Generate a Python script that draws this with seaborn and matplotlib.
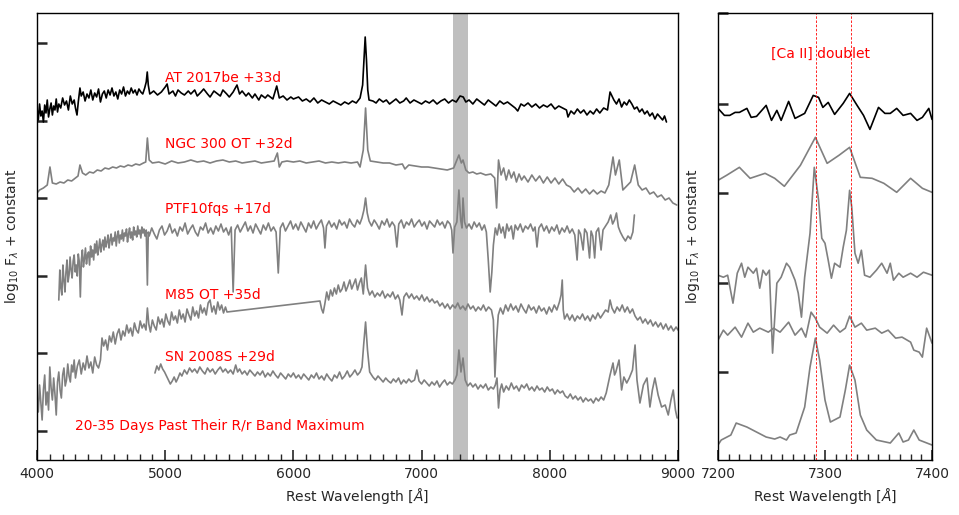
import matplotlib
matplotlib.use("Agg")
import matplotlib.pyplot as plt
from matplotlib.ticker import MultipleLocator, NullFormatter
import seaborn as sns

# ---------------- data (wavelength [A], log10 F + constant, arbitrary units) ----------------
at2017be = [(4000,352),(4010,340),(4020,356),(4030,344),(4040,349),(4050,338),(4060,355),(4070,347),(4080,360),(4090,343),
            (4100,351),(4110,357),(4120,345),(4130,354),(4140,350),(4150,361),(4160,348),(4170,356),(4185,352),(4200,362),
            (4215,355),(4230,359),(4245,350),(4260,364),(4275,356),(4290,360),(4300,352),(4312,345),(4322,358),(4335,372),
            (4345,364),(4360,368),(4375,359),(4390,366),(4405,362),(4420,370),(4435,360),(4450,367),(4465,363),(4480,371),
            (4495,358),(4510,366),(4525,369),(4540,362),(4555,370),(4570,365),(4585,372),(4600,364),(4615,368),(4630,361),
            (4645,370),(4660,366),(4675,373),(4690,364),(4705,369),(4720,366),(4735,372),(4750,367),(4765,370),(4780,365),
            (4795,371),(4810,368),(4825,366),(4840,372),(4852,378),(4860,388),(4868,375),(4880,366),(4910,369),(4940,365),
            (4970,368),(5000,373),(5015,376),(5030,366),(5060,369),(5080,364),(5100,370),(5125,367),(5150,365),(5180,369),
            (5200,366),(5230,370),(5250,364),(5280,368),(5300,371),(5330,366),(5350,363),(5380,369),(5400,367),(5430,364),
            (5450,370),(5480,366),(5500,363),(5530,368),(5560,375),(5580,366),(5600,369),(5630,364),(5650,367),(5680,362),
            (5700,366),(5730,360),(5750,365),(5780,362),(5800,365),(5840,361),(5870,374),(5890,362),(5920,364),(5950,360),
            (5980,363),(6000,361),(6040,363),(6070,359),(6100,361),(6130,358),(6160,362),(6190,357),(6220,360),(6250,358),
            (6280,356),(6310,359),(6340,357),(6370,355),(6400,358),(6430,356),(6460,359),(6490,357),(6520,362),(6540,375),
            (6550,400),(6560,423),(6570,400),(6580,370),(6590,360),(6620,359),(6645,357),(6670,361),(6700,358),(6725,360),
            (6750,356),(6780,359),(6800,361),(6830,357),(6860,359),(6880,362),(6910,357),(6940,360),(6970,358),(7000,356),
            (7030,359),(7060,357),(7090,360),(7120,356),(7150,359),(7180,361),(7210,357),(7240,360),(7270,358),(7300,364),
            (7325,363),(7345,358),(7370,360),(7400,356),(7430,361),(7460,358),(7490,355),(7520,360),(7550,357),(7580,354),
            (7610,359),(7640,356),(7670,358),(7700,355),(7730,352),(7750,349),(7775,356),(7800,354),(7830,357),(7860,353),
            (7890,356),(7920,352),(7950,355),(7980,353),(8010,356),(8040,351),(8070,354),(8100,352),(8130,350),(8142,343),
            (8165,349),(8190,346),(8215,351),(8240,347),(8265,350),(8290,345),(8315,349),(8340,346),(8365,351),(8390,347),
            (8420,352),(8450,350),(8470,368),(8485,364),(8500,360),(8520,356),(8540,361),(8560,353),(8580,358),(8600,355),
            (8620,360),(8640,356),(8660,351),(8680,353),(8700,348),(8720,351),(8740,346),(8760,349),(8780,344),(8800,347),
            (8820,341),(8840,346),(8860,343),(8880,340),(8895,344),(8910,338)]

ngc300ot = [(4000,267),(4020,270),(4050,272),(4080,275),(4101,293),(4120,277),(4150,276),(4180,278),(4210,277),(4240,280),
            (4270,279),(4300,282),(4320,284),(4335,295),(4355,287),(4380,285),(4410,288),(4440,287),(4470,290),(4500,289),
            (4530,292),(4560,291),(4590,293),(4620,292),(4650,294),(4680,293),(4710,295),(4740,294),(4770,296),(4800,295),
            (4830,297),(4848,298),(4861,322),(4875,300),(4900,297),(4950,298),(5000,296),(5050,299),(5100,297),(5150,298),
            (5200,300),(5250,298),(5300,299),(5350,297),(5400,299),(5450,300),(5500,298),(5550,299),(5600,297),(5650,298),
            (5700,299),(5750,297),(5800,298),(5850,299),(5875,307),(5890,293),(5910,298),(5950,299),(6000,298),(6050,299),
            (6100,297),(6150,298),(6200,299),(6250,297),(6300,298),(6350,297),(6400,298),(6450,297),(6500,298),(6520,293),
            (6545,310),(6563,352),(6580,310),(6600,299),(6650,298),(6700,297),(6750,297),(6800,295),(6850,296),(6870,291),
            (6900,295),(6950,294),(7000,293),(7050,293),(7100,292),(7150,291),(7200,290),(7250,292),(7291,305),(7310,297),
            (7323,300),(7345,290),(7370,287),(7400,288),(7430,286),(7460,287),(7500,285),(7540,286),(7570,282),(7585,252),
            (7600,300),(7620,285),(7640,292),(7660,280),(7680,290),(7700,282),(7720,288),(7740,278),(7760,286),(7780,280),
            (7800,284),(7830,278),(7860,285),(7890,279),(7920,284),(7950,277),(7980,283),(8010,277),(8040,282),(8070,276),
            (8100,281),(8130,275),(8160,273),(8190,268),(8220,272),(8250,267),(8280,271),(8310,266),(8340,270),(8370,266),
            (8400,269),(8430,267),(8460,275),(8493,303),(8512,285),(8542,300),(8570,270),(8600,274),(8630,278),(8662,295),
            (8690,275),(8720,270),(8750,272),(8780,266),(8810,268),(8840,263),(8870,265),(8900,260),(8930,262),(8960,257),
            (8990,255)]

ptf10fqs = [(4170,160),(4178,190),(4186,172),(4194,165),(4202,195),(4210,180),(4218,168),(4226,188),(4234,200),(4242,178),
            (4250,185),(4258,203),(4266,190),(4274,182),(4282,199),(4290,205),(4298,188),(4306,195),(4314,184),(4322,206),
            (4330,198),(4338,163),(4346,200),(4354,210),(4362,193),(4370,201),(4378,212),(4386,196),(4394,205),(4402,208),
            (4410,195),(4418,214),(4426,203),(4434,210),(4442,200),(4450,216),(4458,207),(4466,219),(4474,205),(4482,212),
            (4490,221),(4498,208),(4506,215),(4514,220),(4522,210),(4530,223),(4538,213),(4546,218),(4554,225),(4562,212),
            (4570,220),(4578,226),(4586,215),(4594,222),(4602,219),(4610,228),(4618,214),(4626,224),(4634,229),(4642,217),
            (4650,225),(4658,221),(4666,230),(4674,219),(4682,227),(4690,224),(4698,231),(4706,218),(4714,226),(4722,232),
            (4730,222),(4738,228),(4746,220),(4754,233),(4762,225),(4770,229),(4778,223),(4786,234),(4794,226),(4802,230),
            (4810,222),(4818,233),(4826,227),(4834,231),(4842,224),(4852,230),(4861,175),(4868,228),(4875,224),(4895,232),
            (4915,226),(4935,221),(4955,230),(4975,234),(4995,225),(5015,229),(5035,236),(5055,227),(5075,231),(5095,224),
            (5115,233),(5135,229),(5155,237),(5175,226),(5195,231),(5215,235),(5235,228),(5255,224),(5275,233),(5295,230),
            (5315,237),(5335,227),(5355,232),(5375,226),(5395,234),(5415,229),(5435,236),(5455,228),(5475,232),(5495,225),
            (5515,233),(5530,168),(5545,230),(5565,235),(5585,228),(5605,233),(5625,238),(5645,229),(5665,234),(5685,227),
            (5705,236),(5725,231),(5745,226),(5765,235),(5785,230),(5805,237),(5825,229),(5845,233),(5865,228),(5882,187),
            (5898,232),(5918,237),(5938,229),(5958,234),(5978,239),(5998,231),(6018,236),(6038,230),(6058,238),(6078,233),
            (6098,228),(6118,237),(6138,232),(6158,239),(6178,231),(6198,236),(6218,240),(6235,232),(6246,212),(6258,234),
            (6278,239),(6298,233),(6318,237),(6338,231),(6358,240),(6378,235),(6398,238),(6418,232),(6438,241),(6458,236),
            (6478,233),(6498,240),(6518,236),(6535,242),(6550,250),(6563,262),(6576,247),(6590,239),(6610,234),(6630,240),
            (6650,236),(6670,231),(6690,239),(6710,235),(6730,241),(6750,233),(6770,238),(6790,234),(6807,213),(6822,236),
            (6842,240),(6862,232),(6882,238),(6902,235),(6922,241),(6942,233),(6962,237),(6982,240),(7002,234),(7022,238),
            (7042,231),(7062,239),(7082,236),(7102,233),(7122,240),(7142,235),(7162,238),(7182,232),(7202,239),(7222,236),
            (7235,230),(7245,207),(7258,233),(7275,238),(7291,270),(7305,240),(7315,232),(7323,262),(7335,238),(7350,232),
            (7370,236),(7390,231),(7410,238),(7430,233),(7450,237),(7470,230),(7490,235),(7505,228),(7520,200),(7535,168),
            (7548,188),(7560,215),(7575,232),(7590,225),(7605,236),(7620,227),(7635,233),(7650,222),(7665,236),(7680,229),
            (7700,234),(7715,221),(7730,235),(7750,230),(7770,236),(7790,228),(7810,234),(7830,231),(7850,236),(7870,229),
            (7885,233),(7900,213),(7915,232),(7935,236),(7955,229),(7975,234),(7995,227),(8015,233),(8035,229),(8055,235),
            (8075,226),(8095,232),(8115,228),(8135,234),(8155,227),(8175,231),(8195,225),(8213,200),(8225,230),(8240,226),
            (8260,210),(8272,231),(8290,227),(8310,202),(8322,229),(8335,224),(8350,202),(8362,228),(8380,232),(8400,210),
            (8415,230),(8435,234),(8455,238),(8475,245),(8490,236),(8505,240),(8520,247),(8535,233),(8550,228),(8570,223),
            (8590,219),(8610,224),(8630,221),(8648,228),(8660,245)]

m85ot = [(4000,62),(4010,48),(4020,75),(4030,58),(4040,40),(4050,70),(4060,85),(4070,55),(4080,68),(4090,50),
         (4100,93),(4110,72),(4120,60),(4130,82),(4140,66),(4150,45),(4160,78),(4170,88),(4180,70),(4190,62),
         (4200,85),(4210,92),(4220,74),(4230,80),(4240,96),(4250,84),(4260,78),(4270,95),(4280,88),(4290,100),
         (4300,82),(4315,94),(4330,100),(4345,86),(4360,97),(4375,90),(4390,104),(4405,92),(4420,98),(4435,87),
         (4450,103),(4465,95),(4480,92),(4495,100),(4507,122),(4520,114),(4535,120),(4550,110),(4565,124),(4580,118),
         (4595,128),(4610,116),(4625,126),(4640,131),(4655,120),(4670,129),(4685,124),(4700,135),(4715,127),(4730,132),
         (4745,124),(4760,137),(4775,130),(4790,127),(4805,139),(4820,132),(4835,136),(4850,130),(4861,152),(4872,136),
         (4885,128),(4900,140),(4915,134),(4930,130),(4945,143),(4960,136),(4975,141),(4990,133),(5005,146),(5020,139),
         (5035,135),(5050,148),(5065,140),(5080,144),(5095,137),(5110,150),(5125,141),(5140,146),(5155,138),(5170,151),
         (5185,145),(5200,140),(5215,153),(5230,144),(5245,149),(5260,142),(5275,155),(5290,147),(5305,152),(5320,145),
         (5335,157),(5350,160),(5365,148),(5380,154),(5395,146),(5410,158),(5425,150),(5440,155),(5455,147),(5470,153),
         (5482,148),(6207,159),(6220,151),(6232,147),(6245,156),(6260,168),(6275,160),(6290,170),(6305,164),(6320,172),
         (6335,166),(6350,175),(6365,168),(6380,171),(6395,178),(6410,169),(6425,174),(6440,180),(6455,171),(6470,176),
         (6485,181),(6500,170),(6515,177),(6530,182),(6545,166),(6563,195),(6578,172),(6595,165),(6615,169),(6635,163),
         (6655,167),(6675,164),(6695,169),(6715,162),(6735,166),(6755,163),(6775,168),(6795,161),(6815,165),(6830,160),
         (6847,145),(6862,163),(6882,167),(6902,162),(6922,166),(6942,161),(6962,164),(6982,160),(7002,165),(7022,159),
         (7042,163),(7062,158),(7082,161),(7102,157),(7122,159),(7142,154),(7162,157),(7182,152),(7202,156),(7222,151),
         (7242,155),(7262,152),(7282,157),(7302,151),(7322,154),(7342,150),(7362,156),(7382,151),(7402,154),(7422,149),
         (7442,153),(7462,150),(7482,155),(7502,149),(7522,153),(7545,150),(7560,140),(7572,83),(7585,120),(7598,145),
         (7615,152),(7635,146),(7655,155),(7675,149),(7695,156),(7715,150),(7735,154),(7755,148),(7775,156),(7795,151),
         (7815,147),(7835,155),(7855,150),(7875,153),(7895,147),(7915,154),(7935,149),(7955,152),(7975,146),(7995,153),
         (8015,148),(8035,155),(8055,150),(8075,158),(8088,165),(8097,180),(8105,150),(8115,141),(8135,146),(8155,140),
         (8175,145),(8195,139),(8215,144),(8235,141),(8255,146),(8275,140),(8295,144),(8315,139),(8335,145),(8355,141),
         (8375,147),(8395,142),(8415,146),(8435,150),(8455,148),(8470,160),(8485,152),(8505,147),(8525,153),(8545,149),
         (8565,155),(8585,148),(8605,153),(8625,147),(8645,151),(8665,144),(8685,140),(8705,143),(8725,137),(8745,141),
         (8765,136),(8785,140),(8805,134),(8825,138),(8845,133),(8865,137),(8885,131),(8905,136),(8925,130),(8945,134),
         (8965,129),(8985,133),(9000,130)]

sn2008s = [(4920,87),(4935,94),(4950,90),(4965,96),(4980,91),(4995,88),(5010,84),(5025,80),(5040,76),(5055,79),
           (5070,83),(5085,78),(5100,82),(5115,87),(5130,84),(5150,90),(5170,86),(5190,92),(5210,88),(5230,91),
           (5250,87),(5270,93),(5290,89),(5310,86),(5330,92),(5350,88),(5370,91),(5390,86),(5410,90),(5430,93),
           (5450,88),(5470,91),(5490,87),(5510,90),(5530,86),(5550,95),(5565,88),(5580,91),(5600,86),(5620,89),
           (5640,85),(5660,90),(5680,87),(5700,84),(5720,88),(5740,85),(5760,89),(5780,83),(5800,87),(5820,84),
           (5840,89),(5860,85),(5880,82),(5900,87),(5920,84),(5940,81),(5960,86),(5980,83),(6000,87),(6020,82),
           (6040,85),(6060,81),(6080,86),(6100,83),(6120,80),(6140,85),(6160,82),(6180,87),(6200,81),(6220,84),
           (6240,80),(6260,86),(6280,82),(6300,79),(6320,85),(6340,82),(6360,88),(6380,81),(6400,84),(6420,89),
           (6440,83),(6460,86),(6480,90),(6500,85),(6520,88),(6535,93),(6548,115),(6563,138),(6578,110),(6595,88),
           (6620,83),(6640,80),(6660,84),(6680,81),(6700,78),(6720,82),(6740,79),(6760,77),(6780,81),(6800,78),
           (6820,82),(6840,76),(6860,80),(6880,77),(6900,81),(6920,78),(6945,80),(6963,90),(6980,79),(7000,76),
           (7020,80),(7040,77),(7060,74),(7080,78),(7100,75),(7120,79),(7140,73),(7160,77),(7180,80),(7200,75),
           (7220,78),(7240,76),(7260,80),(7275,85),(7291,110),(7307,88),(7323,102),(7340,80),(7360,74),(7380,77),
           (7400,73),(7420,76),(7440,71),(7460,75),(7480,72),(7500,76),(7520,70),(7540,73),(7560,71),(7575,75),
           (7588,82),(7600,52),(7612,70),(7625,76),(7640,68),(7660,74),(7680,70),(7700,77),(7720,71),(7740,74),
           (7760,69),(7780,75),(7800,72),(7820,76),(7840,70),(7860,73),(7880,69),(7900,74),(7920,70),(7940,72),
           (7960,68),(7980,73),(8000,69),(8020,71),(8040,66),(8060,70),(8080,67),(8100,69),(8120,64),(8140,62),
           (8160,66),(8180,61),(8200,64),(8220,60),(8240,63),(8260,58),(8280,62),(8300,59),(8320,61),(8340,57),
           (8360,62),(8380,59),(8400,63),(8420,60),(8440,67),(8470,85),(8493,97),(8505,85),(8515,88),(8540,100),
           (8560,70),(8578,83),(8600,77),(8620,82),(8645,90),(8665,115),(8680,80),(8703,57),(8730,75),(8758,82),
           (8781,53),(8800,70),(8820,82),(8845,65),(8872,53),(8900,55),(8924,45),(8945,60),(8963,70),(8980,50),
           (8993,42)]

# zoom on the [Ca II] doublet (right panel)
at2017be_ca = [(7200,352),(7206,345),(7211,345),(7216,348),(7220,348),(7227,352),(7231,343),(7236,344),(7245,355),(7250,340),
               (7255,350),(7259,340),(7266,359),(7272,342),(7281,347),(7289,365),(7294,363),(7298,353),(7303,358),(7309,346),
               (7317,357),(7323,367),(7330,355),(7336,345),(7342,331),(7350,353),(7356,347),(7361,347),(7367,352),(7373,345),
               (7380,347),(7386,340),(7391,343),(7397,352),(7400,341)]
ngc300ot_ca = [(7200,280),(7208,285),(7220,293),(7230,282),(7244,287),(7253,282),(7262,274),(7277,295),(7291,323),(7302,297),
               (7313,305),(7323,313),(7333,283),(7344,282),(7355,277),(7367,268),(7380,282),(7391,272),(7400,268)]
ptf10fqs_ca = [(7200,185),(7205,183),(7209,185),(7214,157),(7218,187),(7222,197),(7225,183),(7228,193),(7233,187),(7236,192),
               (7239,172),(7242,190),(7245,185),(7248,190),(7251,107),(7255,177),(7259,183),(7264,197),(7267,193),(7272,180),
               (7275,167),(7278,143),(7281,183),(7286,227),(7290,293),(7294,260),(7297,222),(7300,217),(7303,200),(7306,182),
               (7309,197),(7314,193),(7317,213),(7320,230),(7323,270),(7325,253),(7328,207),(7331,197),(7334,210),(7337,185),
               (7342,183),(7348,190),(7353,197),(7358,187),(7361,197),(7364,180),(7369,187),(7373,183),(7380,187),(7386,183),
               (7392,188),(7400,185)]
m85ot_ca = [(7200,120),(7205,130),(7209,125),(7216,133),(7222,123),(7228,137),(7233,128),(7239,132),(7247,128),(7252,132),
            (7258,128),(7266,138),(7272,125),(7278,132),(7282,123),(7287,148),(7291,142),(7295,133),(7302,127),(7308,135),
            (7314,128),(7319,132),(7323,144),(7328,133),(7334,137),(7339,130),(7347,132),(7353,127),(7359,130),(7366,122),
            (7372,123),(7380,118),(7383,110),(7388,108),(7391,103),(7395,132),(7400,117)]
sn2008s_ca = [(7200,15),(7203,20),(7212,25),(7217,37),(7227,33),(7236,28),(7245,23),(7253,21),(7258,23),(7264,20),
              (7267,25),(7273,27),(7281,53),(7286,93),(7291,122),(7295,100),(7300,60),(7305,38),(7314,43),(7319,70),
              (7323,95),(7328,80),(7333,45),(7339,30),(7348,20),(7361,17),(7369,27),(7373,18),(7378,20),(7383,30),
              (7388,20),(7400,15)]

labels = ["AT 2017be +33d", "NGC 300 OT +32d", "PTF10fqs +17d", "M85 OT +35d", "SN 2008S +29d"]
label_y = [382, 316, 251, 165, 103]
colors = ["black", "gray", "gray", "gray", "gray"]
ca_lines = [7291.5, 7323.9]
band = (7245, 7365)

# ---------------- figure ----------------
sns.set_style("ticks")
plt.rcParams["font.family"] = ["DejaVu Sans"]
plt.rcParams["mathtext.fontset"] = "dejavusans"

fig = plt.figure(figsize=(9.59, 5.15), dpi=100)
axL = fig.add_axes([37/959, 1-460/515, (678-37)/959, (460-13)/515])
axR = fig.add_axes([718/959, 1-460/515, (932-718)/959, (460-13)/515])

def draw(ax, spec, color):
    w = [p[0] for p in spec]
    f = [p[1] for p in spec]
    sns.lineplot(x=w, y=f, ax=ax, color=color, linewidth=1.2, estimator=None, sort=False)

for spec, c in zip([at2017be, ngc300ot, ptf10fqs, m85ot, sn2008s], colors):
    draw(axL, spec, c)
for spec, c in zip([at2017be_ca, ngc300ot_ca, ptf10fqs_ca, m85ot_ca, sn2008s_ca], colors):
    draw(axR, spec, c)

axL.axvspan(band[0], band[1], color="gray", alpha=0.5, lw=0, zorder=0)
for lab, y in zip(labels, label_y):
    axL.text(5000, y, lab, color="red", fontsize=10, ha="left", va="center")
axL.text(4300, 34, "20-35 Days Past Their R/r Band Maximum", color="red", fontsize=10, ha="left", va="center")

for x in ca_lines:
    axR.axvline(x, color="red", ls="--", lw=0.6, dashes=(3, 2))
axR.text(7296, 407, "[Ca II] doublet", color="red", fontsize=10, ha="center", va="center")

axL.set_xlim(4000, 9000)
axL.set_ylim(0, 447)
axL.set_xticks([4000, 5000, 6000, 7000, 8000, 9000])
axL.xaxis.set_minor_locator(MultipleLocator(100))
axL.set_yticks([29.2, 106.7, 184.2, 261.7, 339.2, 416.7])

axR.set_xlim(7200, 7400)
axR.set_ylim(0, 447.5)
axR.set_xticks([7200, 7300, 7400])
axR.xaxis.set_minor_locator(MultipleLocator(10))
axR.set_yticks([88.3, 177.3, 267.3, 356.7, 447.3])

for ax in (axL, axR):
    ax.yaxis.set_major_formatter(NullFormatter())
    ax.tick_params(axis="x", which="major", direction="in", length=7, width=1.2, labelsize=10, top=False, pad=5)
    ax.tick_params(axis="x", which="minor", direction="in", length=4, width=1.0, top=False)
    ax.tick_params(axis="y", which="major", direction="in", length=7, width=1.8, right=False)
    ax.tick_params(axis="y", which="minor", left=False, right=False)
    for s in ax.spines.values():
        s.set_visible(True)
        s.set_linewidth(1.0)
        s.set_color("black")
    ax.set_xlabel(r"Rest Wavelength [$\AA$]", fontsize=10)
    ax.set_ylabel(r"log$_{10}$ F$_\lambda$ + constant", fontsize=10, labelpad=8)

fig.savefig("out.png", dpi=100)
